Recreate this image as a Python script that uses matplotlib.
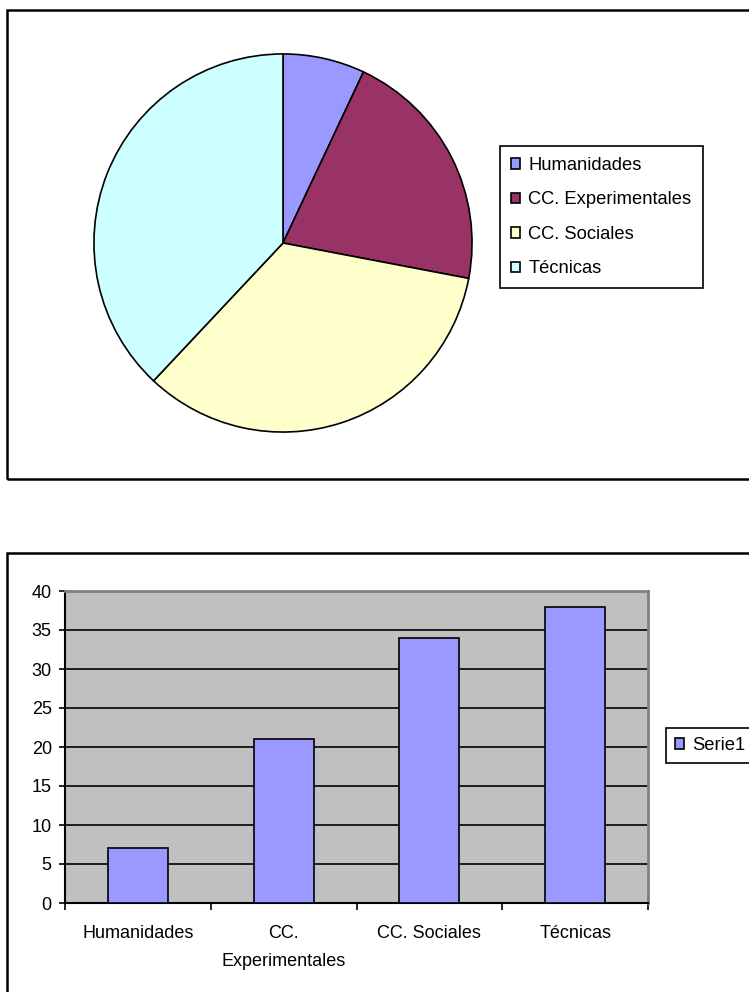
import matplotlib
matplotlib.use('Agg')
import matplotlib.pyplot as plt
import matplotlib.patches as patches
from matplotlib.ticker import FixedLocator, NullFormatter

plt.rcParams['font.family'] = ['Liberation Sans', 'DejaVu Sans']

categories = ['Humanidades', 'CC. Experimentales', 'CC. Sociales', 'Técnicas']
bar_labels = ['Humanidades', 'CC.\nExperimentales', 'CC. Sociales', 'Técnicas']
values = [7, 21, 34, 38]
colores = ['#9999FF', '#993366', '#FFFFCC', '#CCFFFF']
serie_name = 'Serie1'
yticks = [0, 5, 10, 15, 20, 25, 30, 35, 40]

W, H = 749, 992
fig = plt.figure(figsize=(W / 100, H / 100), dpi=100)

def fr(x, y, w, h):
    # pixel box (top-left origin) -> figure fraction
    return [x / W, 1 - (y + h) / H, w / W, h / H]

# outer chart frames (cut off at right / bottom like the original)
for (x0, y0, x1, y1) in [(7, 10, 800, 479), (7, 553, 800, 1100)]:
    r = patches.Rectangle((x0 / W, 1 - y1 / H), (x1 - x0) / W, (y1 - y0) / H,
                          transform=fig.transFigure, fill=False,
                          edgecolor='black', linewidth=1.8, clip_on=False)
    fig.add_artist(r)

# ---- pie ----
ax1 = fig.add_axes(fr(93, 53, 380, 380))
wedges, _ = ax1.pie(values, colors=colores, startangle=90, counterclock=False,
                    wedgeprops=dict(edgecolor='black', linewidth=1.2))
ax1.set_xlim(-1.005, 1.005)
ax1.set_ylim(-1.005, 1.005)
ax1.set_aspect('auto')
ax1.axis('off')

leg1 = fig.legend(wedges, categories, loc='upper left',
                  bbox_to_anchor=(500 / W, 1 - 146 / H), borderaxespad=0,
                  fontsize=13.2, handlelength=0.5, handleheight=0.5,
                  handletextpad=0.45, labelspacing=0.95, borderpad=0.6,
                  fancybox=False, edgecolor='black', framealpha=1)
leg1.get_frame().set_linewidth(1.2)

# ---- bars ----
ax2 = fig.add_axes(fr(65, 591, 583, 312))
ax2.set_facecolor('#C0C0C0')
x = list(range(len(values)))
bars = ax2.bar(x, values, width=0.41, color='#9999FF', edgecolor='black',
               linewidth=1.2, zorder=3, label=serie_name)
ax2.set_xlim(-0.5, len(values) - 0.5)
ax2.set_ylim(0, 40)
ax2.set_yticks(yticks)
ax2.yaxis.grid(True, color='black', linewidth=1.2, zorder=1)
ax2.set_axisbelow(True)

ax2.xaxis.set_major_locator(FixedLocator([i - 0.5 for i in range(len(values) + 1)]))
ax2.xaxis.set_major_formatter(NullFormatter())
ax2.xaxis.set_minor_locator(FixedLocator(x))
ax2.set_xticklabels(bar_labels, minor=True)
ax2.tick_params(axis='x', which='major', direction='out', length=5, width=1.2)
ax2.tick_params(axis='x', which='minor', length=0, pad=16, labelsize=13)
ax2.tick_params(axis='y', direction='out', length=4.5, width=1.2, pad=5,
                labelsize=13)
for lab in ax2.get_xticklabels(minor=True):
    lab.set_linespacing(1.85)

for s in ['top', 'right']:
    ax2.spines[s].set_color('#808080')
    ax2.spines[s].set_linewidth(2)
for s in ['left', 'bottom']:
    ax2.spines[s].set_color('black')
    ax2.spines[s].set_linewidth(1.5)

leg2 = fig.legend(handles=[bars], labels=[serie_name], loc='upper left',
                  bbox_to_anchor=(666 / W, 1 - 728 / H), borderaxespad=0,
                  fontsize=13.2, handlelength=0.5, handleheight=0.5,
                  handletextpad=0.45, borderpad=0.5,
                  fancybox=False, edgecolor='black', framealpha=1)
leg2.get_frame().set_linewidth(1.2)

fig.savefig('out.png', dpi=100)
